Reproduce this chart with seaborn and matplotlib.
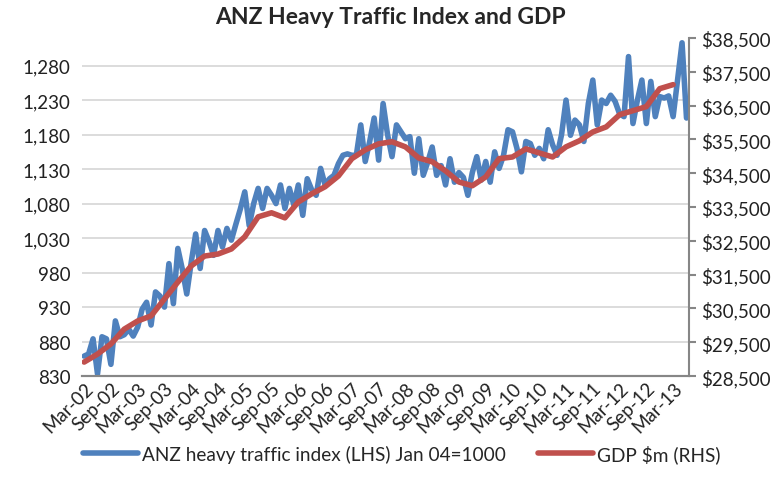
import numpy as np
import pandas as pd
import seaborn as sns
import matplotlib.pyplot as plt
import matplotlib.ticker as mticker

# monthly ANZ heavy traffic index, Mar-02 .. Jun-13 (Jan 04 = 1000)
heavy_traffic = [
    859, 862, 884, 833, 887, 884, 847, 910, 887, 890, 898, 888,
    901, 927, 937, 904, 952, 946, 930, 993, 935, 1015, 985, 949,
    995, 1036, 986, 1041, 1025, 1005, 1041, 1017, 1044, 1027, 1050, 1072,
    1097, 1048, 1080, 1102, 1073, 1102, 1092, 1080, 1107, 1073, 1102, 1078,
    1107, 1063, 1116, 1100, 1092, 1131, 1107, 1116, 1121, 1138, 1150, 1152,
    1150, 1150, 1194, 1141, 1170, 1204, 1143, 1225, 1180, 1148, 1194, 1184,
    1174, 1177, 1124, 1174, 1121, 1140, 1162, 1121, 1135, 1107, 1145, 1111,
    1125, 1118, 1092, 1125, 1148, 1114, 1141, 1111, 1155, 1131, 1150, 1187,
    1184, 1160, 1126, 1170, 1167, 1150, 1160, 1145, 1187, 1165, 1150, 1180,
    1230, 1179, 1201, 1194, 1170, 1225, 1259, 1194, 1230, 1225, 1237, 1228,
    1210, 1206, 1293, 1196, 1230, 1259, 1196, 1257, 1206, 1235, 1233, 1236,
    1206, 1260, 1313, 1204,
]

# quarterly GDP $m, Mar-02 .. Mar-13
gdp = [
    28915, 29150, 29450, 29890, 30130, 30280, 30780, 31280, 31760, 32050,
    32110, 32260, 32620, 33210, 33330, 33180, 33650, 33890, 34100, 34420,
    34930, 35190, 35370, 35430, 35280, 34950, 34840, 34570, 34240, 34130,
    34390, 34930, 34980, 35220, 35100, 34980, 35280, 35460, 35720, 35870,
    36230, 36350, 36470, 37000, 37120,
]

tick_labels = ['Mar-02', 'Sep-02', 'Mar-03', 'Sep-03', 'Mar-04', 'Sep-04',
               'Mar-05', 'Sep-05', 'Mar-06', 'Sep-06', 'Mar-07', 'Sep-07',
               'Mar-08', 'Sep-08', 'Mar-09', 'Sep-09', 'Mar-10', 'Sep-10',
               'Mar-11', 'Sep-11', 'Mar-12', 'Sep-12', 'Mar-13']

traffic_df = pd.DataFrame({'month': np.arange(len(heavy_traffic)), 'value': heavy_traffic})
gdp_df = pd.DataFrame({'month': np.arange(len(gdp)) * 3, 'value': gdp})

sns.set_style('white')
plt.rcParams['font.family'] = ['Lato', 'DejaVu Sans']

blue = '#4F81BD'
red = '#C0504D'
grey = '#868686'

fig = plt.figure(figsize=(7.8, 4.81), dpi=100)
ax = fig.add_axes([0.105, 0.216, 0.778, 0.703])
ax2 = ax.twinx()

sns.lineplot(data=traffic_df, x='month', y='value', ax=ax, color=blue, lw=4,
             label='ANZ heavy traffic index (LHS) Jan 04=1000', legend=False)
sns.lineplot(data=gdp_df, x='month', y='value', ax=ax2, color=red, lw=4,
             label='GDP $m (RHS)', legend=False)

ax.set_xlim(-0.5, len(heavy_traffic) - 0.5)
ax.set_ylim(830, 1320)
ax.set_yticks(np.arange(830, 1281, 50))
ax.yaxis.set_major_formatter(mticker.StrMethodFormatter('{x:,.0f}'))
ax2.set_ylim(28500, 38500)
ax2.set_yticks(np.arange(28500, 38501, 1000))
ax2.yaxis.set_major_formatter(mticker.StrMethodFormatter('${x:,.0f}'))

ax.set_xticks(np.arange(len(tick_labels)) * 6)
ax.set_xticklabels(tick_labels, rotation=45, ha='right', rotation_mode='anchor')
ax.grid(axis='y', color='#D9D9D9', lw=1.3)
ax.set_axisbelow(True)

for a in (ax, ax2):
    a.set_xlabel('')
    a.set_ylabel('')
    a.spines['top'].set_visible(False)
    a.spines['left'].set_visible(False)
    a.spines['right'].set_visible(False)
    a.spines['bottom'].set_color(grey)
    a.spines['bottom'].set_linewidth(1.5)
ax2.spines['right'].set_visible(True)
ax2.spines['right'].set_color(grey)
ax2.spines['right'].set_linewidth(1.5)

ax.tick_params(axis='y', length=0, labelsize=13.5, pad=8, colors='#222222')
ax.tick_params(axis='x', length=0, labelsize=13.5, pad=2, colors='#222222')
ax2.tick_params(axis='y', length=5, width=1.5, color=grey, labelsize=13.5, pad=4,
                labelcolor='#222222')

fig.suptitle('ANZ Heavy Traffic Index and GDP', x=0.5, y=0.985, fontsize=16.5,
             fontweight='bold')

handles = ax.get_lines()[:1] + ax2.get_lines()[:1]
fig.legend(handles, [h.get_label() for h in handles], loc='lower center',
           bbox_to_anchor=(0.515, 0.0), ncol=2, frameon=False, fontsize=13.7,
           handlelength=2.9, columnspacing=1.7, handletextpad=0.2)

fig.savefig('out.png', dpi=100)
